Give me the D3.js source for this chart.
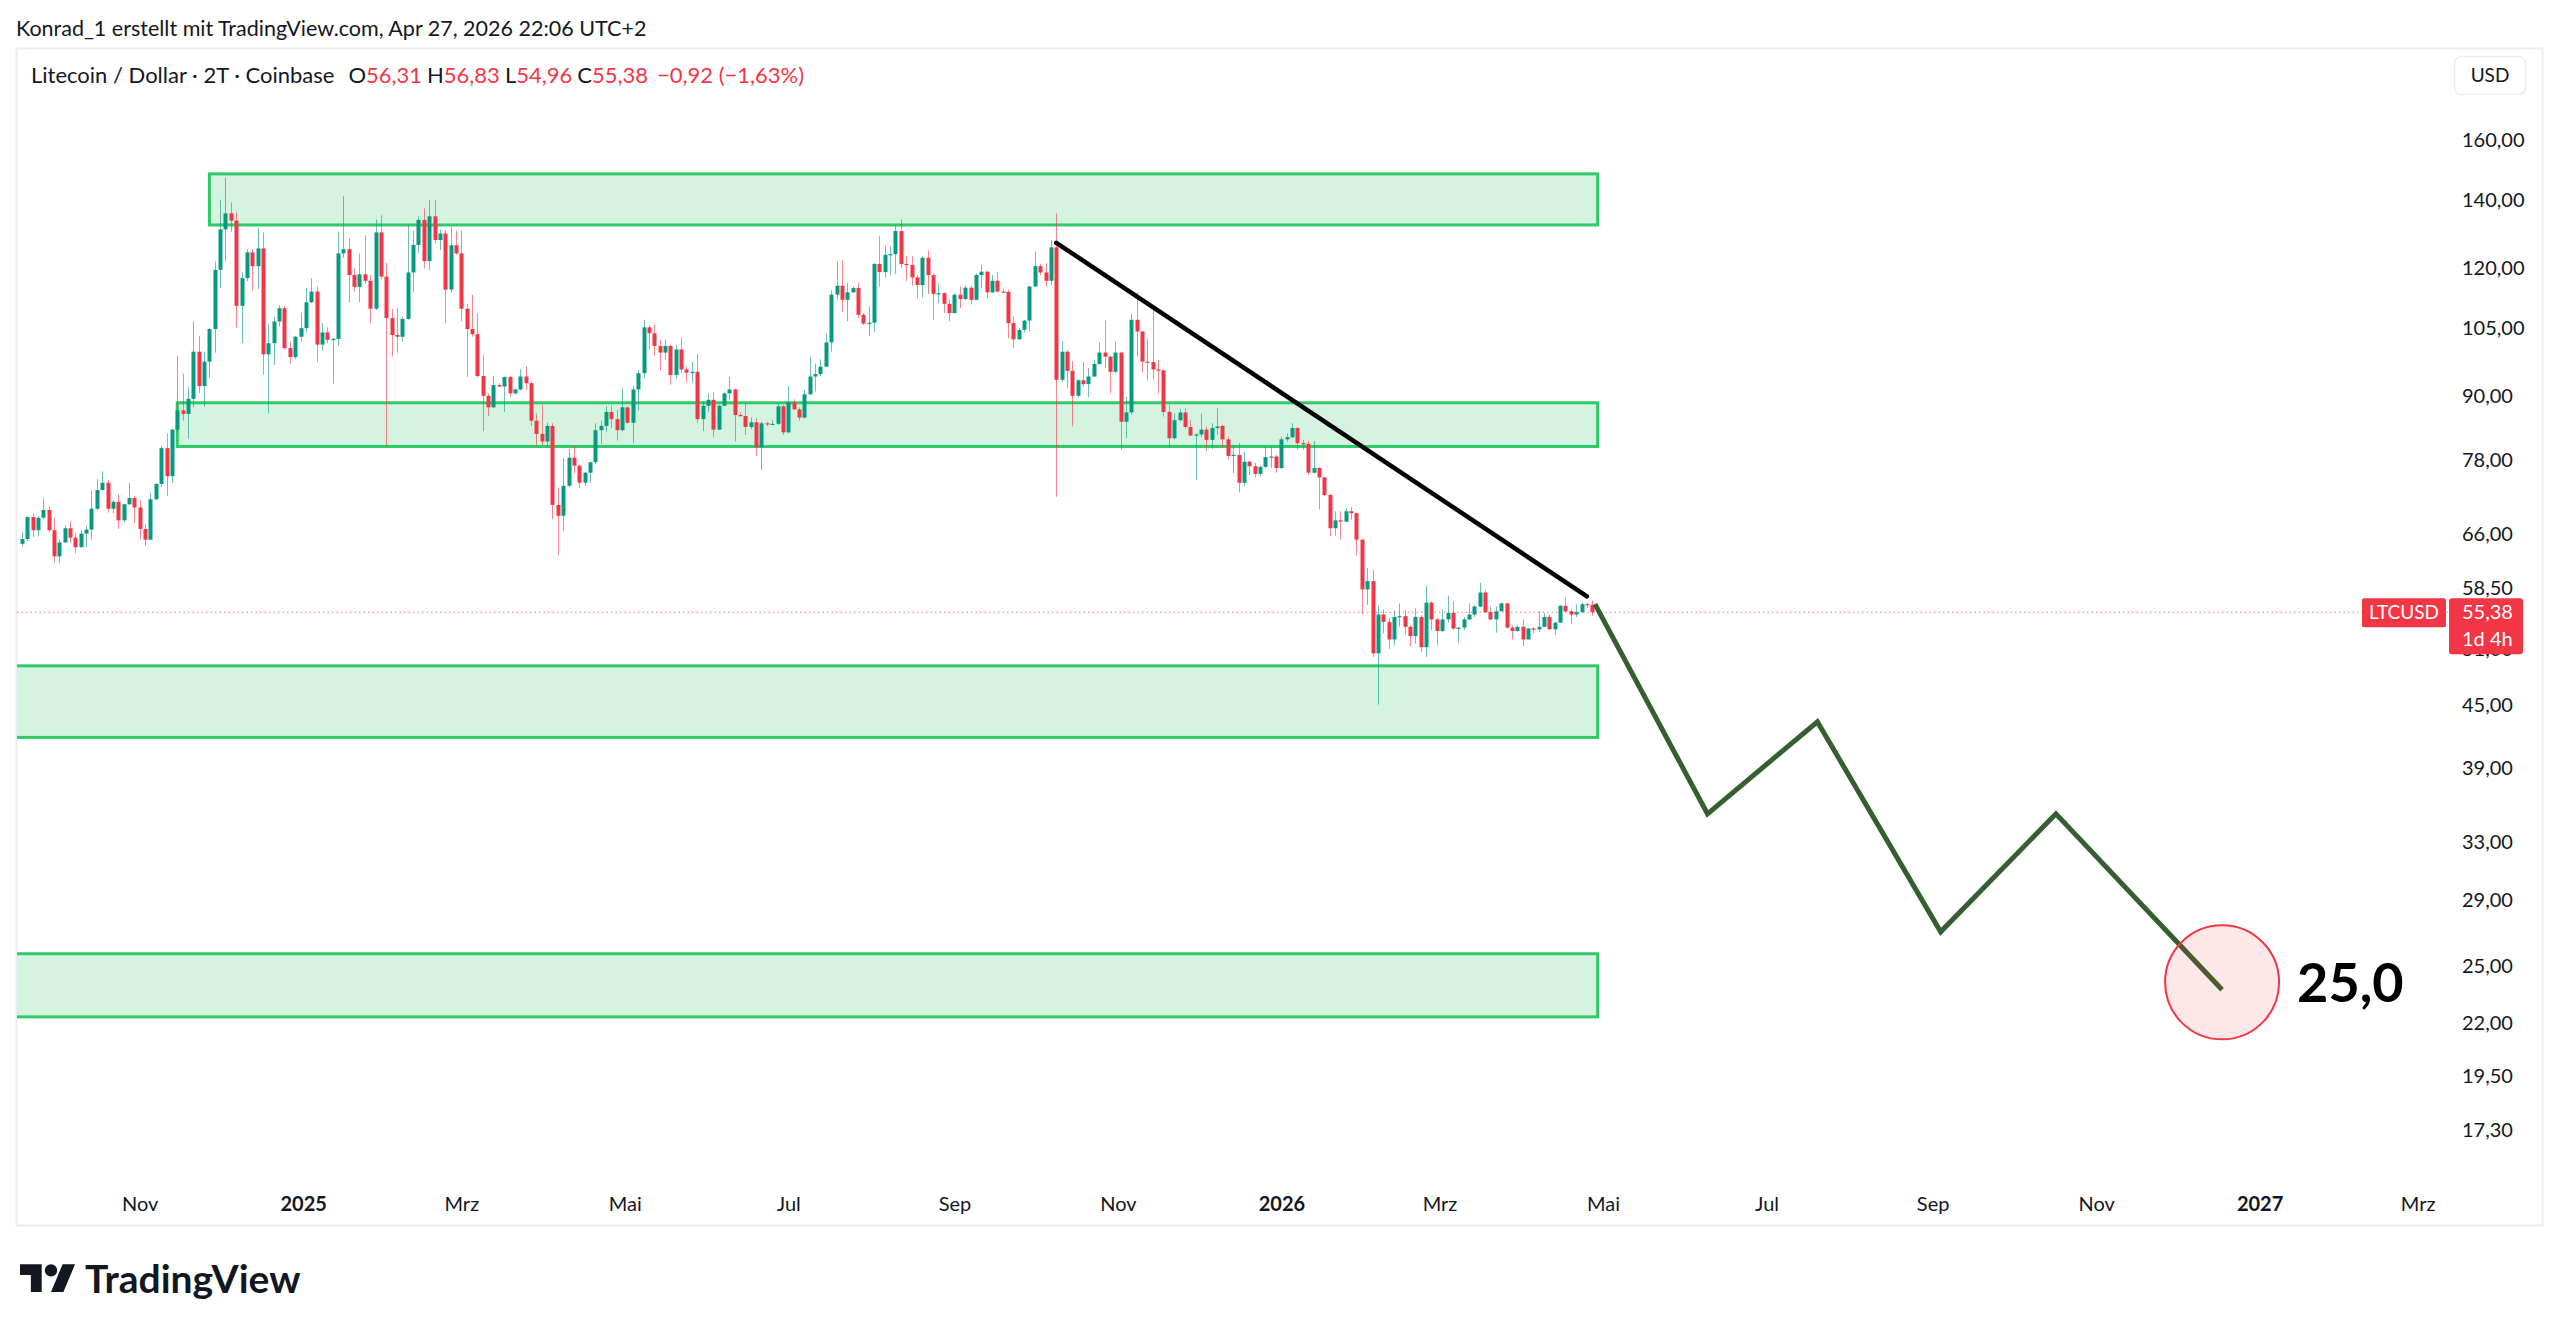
<!DOCTYPE html>
<html><head><meta charset="utf-8">
<script src="https://cdn.jsdelivr.net/npm/d3@7"></script>
<style>
html,body{margin:0;padding:0;background:#fff;}
svg{display:block;}
text{font-family:Lato,"Noto Sans",sans-serif;}
</style></head><body>
<svg id="chart" width="2560" height="1333"></svg>
<script>
// ---------------- DATA ----------------
const symbolTitle = "Litecoin / Dollar · 2T · Coinbase";
const headerText = "Konrad_1 erstellt mit TradingView.com, Apr 27, 2026 22:06 UTC+2";
const candleStart = "2024-09-18";   // first 2-day candle
const candleStepDays = 2;

const opens = [
64.6,65.3,68.6,66.6,68.5,69.7,66.6,62.8,64.8,66.9,
65.5,64.1,66.1,66.7,69.9,72.9,74.1,69.9,71.0,68.1,
70.6,71.6,70.1,66.8,65.2,71.4,73.9,80.1,75.2,83.5,
87.2,86.5,89.5,99.5,92.1,97.3,104.7,119.6,131.0,135.8,
133.6,110.3,117.4,124.4,120.6,125.5,98.9,101.4,106.5,109.7,
100.3,98.3,102.9,104.9,111.2,113.9,101.1,103.9,102.2,102.4,
124.1,125.3,118.2,115.1,118.4,116.7,109.6,130.1,117.8,107.3,
103.3,102.9,107.1,118.9,126.5,133.8,122.0,134.9,127.9,129.8,
114.4,126.4,124.1,109.6,104.7,103.5,94.2,90.1,87.8,92.3,
92.0,94.0,90.6,91.4,94.1,92.7,85.2,82.7,81.3,84.2,
70.5,68.8,73.6,78.4,77.0,74.1,75.8,77.6,83.4,84.2,
86.9,85.5,83.4,87.8,84.8,91.4,94.8,105.1,103.7,100.8,
99.3,100.8,94.4,100.0,95.6,94.9,95.1,85.5,88.1,89.3,
83.5,88.1,90.6,91.4,86.3,86.1,84.0,84.9,80.3,84.7,
84.5,84.6,88.0,83.0,88.8,87.4,85.8,90.4,94.1,94.6,
96.2,101.6,113.1,115.4,111.8,113.7,114.8,108.1,106.0,106.2,
121.2,119.0,123.7,123.9,130.5,121.2,120.9,117.6,115.6,122.9,
118.2,113.3,113.5,110.8,108.5,113.1,112.0,114.9,111.8,118.2,
119.1,113.7,116.7,113.9,113.8,106.1,102.3,104.5,106.7,115.2,
120.6,118.9,116.7,125.8,93.4,99.5,95.3,90.1,93.3,92.5,
94.1,96.8,99.3,98.4,95.1,99.3,85.0,86.8,106.9,104.1,
97.3,97.2,95.6,95.4,86.9,81.9,85.3,86.8,84.0,82.4,
82.6,83.5,81.6,83.8,84.2,81.7,78.7,78.9,74.1,77.7,
76.9,75.6,76.8,78.5,78.6,76.6,81.7,82.1,83.8,81.0,
80.9,75.8,76.6,75.0,72.1,66.9,68.1,67.9,69.5,69.2,
65.2,58.3,59.4,50.5,55.1,54.2,52.1,54.8,54.9,53.6,
52.5,54.8,51.2,56.6,54.5,53.1,54.5,55.3,53.4,53.5,
54.5,55.1,56.1,57.9,55.4,54.5,55.5,56.5,53.5,53.1,
53.6,52.1,53.4,53.3,53.6,54.8,53.3,54.1,56.2,55.5,
55.1,55.4,56.4,56.31];
const highs = [
66.3,68.7,69.2,68.7,71.5,70.2,68.5,65.2,67.4,67.9,
66.2,66.6,67.3,72.8,74.7,76.0,74.6,71.3,72.2,70.7,
74.1,71.9,71.3,67.5,72.4,74.1,80.5,82.8,83.7,98.6,
94.7,92.0,106.5,103.1,99.5,104.9,121.9,140.0,147.2,139.2,
136.2,118.9,125.3,125.3,131.5,130.1,105.9,107.6,110.5,110.3,
101.8,103.1,108.5,114.8,117.4,115.2,106.2,105.1,102.6,130.3,
141.1,128.4,120.1,124.1,129.3,118.2,134.0,135.2,121.5,109.5,
109.7,107.6,132.6,130.6,134.9,137.3,139.9,139.9,131.0,130.8,
131.8,130.6,130.6,110.8,113.1,108.5,98.8,90.6,94.2,92.8,
94.1,94.2,91.6,95.6,96.3,93.1,86.6,88.3,84.8,84.7,
73.3,78.3,79.9,80.5,77.2,75.9,77.7,84.7,85.2,88.0,
88.1,87.3,91.6,88.0,92.2,95.5,106.9,105.6,105.8,102.2,
102.3,101.0,101.0,102.7,96.2,97.2,99.0,88.9,90.6,90.8,
88.3,90.8,94.0,91.6,86.8,88.6,85.8,85.7,85.0,85.0,
85.3,88.6,88.3,92.1,89.4,87.8,91.3,98.3,96.9,97.8,
103.7,114.2,121.8,122.3,116.2,115.2,116.2,108.5,110.1,121.4,
129.0,126.2,126.2,132.0,134.0,123.3,123.3,118.2,123.3,124.9,
118.6,116.0,113.7,111.8,113.4,115.2,115.4,115.4,118.6,120.9,
119.3,118.2,119.1,114.6,114.4,107.7,104.9,106.9,115.4,124.6,
121.2,121.4,127.9,135.8,101.9,99.8,97.4,93.5,97.2,95.9,
97.7,101.6,106.7,98.6,101.8,99.5,89.9,108.3,113.7,104.3,
102.5,109.3,97.7,95.6,88.3,86.6,87.4,87.6,85.3,82.8,
86.6,84.1,84.7,87.6,84.4,82.2,80.7,81.0,79.5,77.9,
77.5,77.0,80.4,80.4,78.9,82.2,82.8,84.7,84.0,81.6,
81.4,81.4,76.8,75.1,72.3,69.5,69.5,70.0,70.2,69.3,
65.3,61.2,60.9,56.2,55.7,54.7,55.6,56.5,55.7,53.8,
55.9,55.0,58.8,56.8,54.7,55.7,57.5,56.8,53.6,54.8,
56.5,56.3,59.2,58.3,56.1,56.1,56.6,56.6,53.8,53.8,
54.5,53.5,53.6,55.5,55.3,55.1,54.2,56.3,57.3,55.8,
56.4,56.6,56.6,56.83];
const lows = [
64.2,65.0,65.6,65.7,68.3,66.3,61.9,61.8,64.7,64.7,
63.2,64.1,64.1,65.2,69.7,72.8,69.3,69.2,66.8,67.8,
70.5,67.7,65.2,64.3,65.2,71.3,73.4,71.9,74.1,82.8,
85.2,81.8,87.8,90.7,87.9,93.8,99.3,114.8,121.9,130.3,
105.1,101.4,116.6,114.1,114.6,94.5,86.6,96.6,105.3,100.0,
96.8,97.8,101.8,103.9,111.0,97.2,99.7,101.4,92.6,100.8,
122.9,111.2,113.9,111.2,116.0,106.1,109.3,117.1,80.5,98.4,
99.3,101.8,106.9,113.9,124.3,120.0,119.6,126.9,125.0,106.1,
113.7,123.7,106.5,94.0,102.9,93.9,83.2,86.1,87.6,91.9,
86.9,89.9,90.3,91.2,91.3,84.2,80.7,80.7,80.3,68.3,
63.0,66.4,73.4,75.7,73.2,73.6,74.1,77.3,80.9,83.0,
83.8,81.5,83.2,84.7,81.0,87.2,93.7,100.0,98.6,95.5,
97.7,92.4,93.6,94.8,92.8,92.8,84.8,83.2,86.9,82.1,
83.4,88.0,89.3,81.3,86.0,82.5,83.6,78.7,76.3,84.1,
84.4,84.4,82.5,82.8,87.3,85.2,85.6,90.3,91.0,94.2,
96.1,99.5,111.8,108.8,106.5,113.5,107.3,105.6,103.1,104.1,
115.2,117.6,118.2,118.5,120.0,116.6,115.4,112.2,112.4,113.3,
106.9,111.0,108.5,106.5,108.5,109.7,111.8,110.8,111.8,114.8,
112.2,113.5,113.7,113.7,102.5,100.3,102.2,103.9,104.1,115.1,
118.2,115.2,115.6,71.8,92.9,91.7,84.1,89.8,92.0,89.8,
94.0,96.6,95.9,90.6,94.8,79.8,81.9,86.3,98.4,94.9,
93.3,93.4,90.6,86.0,80.1,81.7,85.0,83.6,82.3,74.6,
82.1,79.6,79.9,82.5,80.1,78.0,75.7,72.5,73.5,75.4,
75.0,75.1,76.6,76.6,75.8,76.4,81.3,81.9,79.8,79.8,
75.4,75.7,69.8,71.9,65.7,65.8,65.2,67.8,68.2,62.9,
55.1,56.3,50.1,45.0,52.8,51.0,51.4,53.6,52.6,51.3,
51.6,50.6,50.1,53.2,51.4,53.0,54.1,53.2,51.7,53.2,
54.4,54.8,56.0,55.3,54.4,52.9,55.5,53.4,52.1,53.0,
51.3,52.1,52.8,53.0,53.6,53.3,52.6,54.1,55.4,54.0,
54.8,55.3,55.9,54.96];
const closes = [
65.3,68.6,66.6,68.5,69.7,66.6,62.8,64.8,66.9,65.5,
64.1,66.1,66.7,69.9,72.9,74.1,69.9,71.0,68.1,70.6,
71.6,70.1,66.8,65.2,71.4,73.9,80.1,75.2,83.5,87.2,
86.5,89.5,99.5,92.1,97.3,104.7,119.6,131.0,135.8,133.6,
110.3,117.4,124.4,120.6,125.5,98.9,101.4,106.5,109.7,100.3,
98.3,102.9,104.9,111.2,113.9,101.1,103.9,102.2,102.4,124.1,
125.3,118.2,115.1,118.4,116.7,109.6,130.1,117.8,107.3,103.3,
102.9,107.1,118.9,126.5,133.8,122.0,134.9,127.9,129.8,114.4,
126.4,124.1,109.6,104.7,103.5,94.2,90.1,87.8,92.3,92.0,
94.0,90.6,91.4,94.1,92.7,85.2,82.7,81.3,84.2,70.5,
68.8,73.6,78.4,77.0,74.1,75.8,77.6,83.4,84.2,86.9,
85.5,83.4,87.8,84.8,91.4,94.8,105.1,103.7,100.8,99.3,
100.8,94.4,100.0,95.6,94.9,95.1,85.5,88.1,89.3,83.5,
88.1,90.6,91.4,86.3,86.1,84.0,84.9,80.3,84.7,84.5,
84.6,88.0,83.0,88.8,87.4,85.8,90.4,94.1,94.6,96.2,
101.6,113.1,115.4,111.8,113.7,114.8,108.1,106.0,106.2,121.2,
119.0,123.7,123.9,130.5,121.2,120.9,117.6,115.6,122.9,118.2,
113.3,113.5,110.8,108.5,113.1,112.0,114.9,111.8,118.2,119.1,
113.7,116.7,113.9,113.8,106.1,102.3,104.5,106.7,115.2,120.6,
118.9,116.7,125.8,93.4,99.5,95.3,90.1,93.3,92.5,94.1,
96.8,99.3,98.4,95.1,99.3,85.0,86.8,106.9,104.1,97.3,
97.2,95.6,95.4,86.9,81.9,85.3,86.8,84.0,82.4,82.6,
83.5,81.6,83.8,84.1,81.7,78.7,78.9,74.1,77.7,76.9,
75.6,76.8,78.5,78.6,76.6,81.7,82.1,83.8,81.0,80.9,
75.8,76.6,75.0,72.1,66.9,68.1,67.9,69.5,69.2,65.2,
58.3,59.4,50.5,55.1,54.2,52.1,54.8,54.9,53.6,52.5,
54.8,51.2,56.6,54.5,53.1,54.5,55.3,53.4,53.5,54.5,
55.1,56.1,57.9,55.4,54.5,55.5,56.5,53.5,53.1,53.6,
52.1,53.4,53.3,53.6,54.8,53.3,54.1,56.2,55.5,55.1,
55.4,56.4,56.30,55.38];

const priceTicks = [160,140,120,105,90,78,66,58.5,51,45,39,33,29,25,22,19.5,17.3];
const timeTickDates = ["2024-11-01","2025-01-01","2025-03-01","2025-05-01","2025-07-01","2025-09-01","2025-11-01",
  "2026-01-01","2026-03-01","2026-05-01","2026-07-01","2026-09-01","2026-11-01","2027-01-01","2027-03-01"];
const timeTickLabels = ["Nov","2025","Mrz","Mai","Jul","Sep","Nov","2026","Mrz","Mai","Jul","Sep","Nov","2027","Mrz"];

// support / resistance zones
const zoneFrom = ["2024-11-27","2024-11-15","2024-06-01","2024-06-01"];
const zoneTo   = ["2026-04-29","2026-04-29","2026-04-29","2026-04-29"];
const zoneHigh = [148.4, 88.7, 49.1, 25.7];
const zoneLow  = [132.3, 80.4, 41.8, 22.3];

// descending trend line
const trendDates = ["2025-10-09","2026-04-25"];
const trendPrices = [127.1, 57.4];

// projected path
const projDates = ["2026-04-28","2026-06-09","2026-07-20","2026-09-04","2026-10-17","2026-12-18"];
const projPrices = [56.4, 35.2, 43.3, 27.0, 35.2, 23.7];

// target marker
const targetDate = "2026-12-18";
const targetPrice = 24.1;
const targetLabel = "25,0";

const lastPrice = 55.38;
const countdown = "1d 4h";

// ---------------- CHART ----------------
const ink = "#131722", up = "#089981", down = "#f23645";
const parse = s => new Date(s + "T00:00:00Z");
const de = d3.formatLocale({decimal:",", thousands:".", grouping:[3], currency:["","$"], minus:"\u2212"});
const f2 = de.format(".2f");

const plotL = 17, plotR = 2448, plotT = 49, plotB = 1168;
const x = d3.scaleTime().domain([parse("2026-01-01"), parse("2027-01-01")]).range([1281.4, 2259.6]);
const y = d3.scaleLog().domain([160, 17.3]).range([140.4, 1129.8]);

const svg = d3.select("#chart");
svg.append("rect").attr("width",2560).attr("height",1333).attr("fill","#fff");

// header
svg.append("text").attr("x",16).attr("y",28).attr("dy","0.35em")
  .attr("font-size",21.5).attr("fill",ink).text(headerText);

// panel border
svg.append("rect").attr("x",16.5).attr("y",48.5).attr("width",2526).attr("height",1177)
  .attr("fill","none").attr("stroke","#e9ecf2").attr("stroke-width",2);

svg.append("defs").append("clipPath").attr("id","plotclip")
  .append("rect").attr("x",plotL).attr("y",plotT).attr("width",plotR-plotL).attr("height",plotB-plotT);
const plotG = svg.append("g").attr("clip-path","url(#plotclip)");

// zones
const zones = zoneFrom.map((f,i)=>({f:parse(f), t:parse(zoneTo[i]), hi:zoneHigh[i], lo:zoneLow[i]}));
plotG.append("g").selectAll("rect").data(zones).join("rect")
  .attr("x",d=>x(d.f)).attr("width",d=>x(d.t)-x(d.f))
  .attr("y",d=>y(d.hi)).attr("height",d=>y(d.lo)-y(d.hi))
  .attr("fill","#d4f4e1").attr("stroke","#2fca67").attr("stroke-width",3);

// candles
const candles = closes.map((c,i)=>({date:d3.utcDay.offset(parse(candleStart), i*candleStepDays),
  o:opens[i], h:highs[i], l:lows[i], c:c}));
const cg = plotG.append("g");
const cx = d => Math.round(x(d.date)) + 0.5;
cg.selectAll("line").data(candles).join("line")
  .attr("x1",cx).attr("x2",cx)
  .attr("y1",d=>y(d.h)).attr("y2",d=>y(d.l))
  .attr("stroke",d=>d.c>=d.o?up:down).attr("stroke-opacity",0.6).attr("stroke-width",1);
cg.selectAll("rect").data(candles).join("rect")
  .attr("x",d=>cx(d)-2).attr("width",4)
  .attr("y",d=>y(Math.max(d.o,d.c)))
  .attr("height",d=>Math.max(1.2, y(Math.min(d.o,d.c))-y(Math.max(d.o,d.c))))
  .attr("fill",d=>d.c>=d.o?up:down);

// last price dotted line
plotG.append("line").attr("x1",plotL).attr("x2",plotR)
  .attr("y1",y(lastPrice)).attr("y2",y(lastPrice))
  .attr("stroke",down).attr("stroke-opacity",0.7).attr("stroke-width",1).attr("stroke-dasharray","1.5,3");

// trend line
const lineGen = d3.line().x(d=>x(d[0])).y(d=>y(d[1]));
plotG.append("path").datum(trendDates.map((d,i)=>[parse(d),trendPrices[i]]))
  .attr("d",lineGen).attr("fill","none").attr("stroke","#000").attr("stroke-width",4.5).attr("stroke-linecap","round");

// projection
plotG.append("path").datum(projDates.map((d,i)=>[parse(d),projPrices[i]]))
  .attr("d",lineGen).attr("fill","none").attr("stroke","#355f31").attr("stroke-width",5)
  .attr("stroke-linejoin","miter");

// target circle
const tx = x(parse(targetDate)), ty = y(targetPrice);
plotG.append("circle").attr("cx",tx).attr("cy",ty).attr("r",57)
  .attr("fill","rgba(242,54,69,0.12)").attr("stroke",down).attr("stroke-width",2);
plotG.append("text").attr("x",tx+75).attr("y",ty).attr("dy","0.36em")
  .attr("font-size",54).attr("font-weight",700).attr("fill","#000").text(targetLabel);

// y axis
const yAxis = d3.axisRight(y).tickValues(priceTicks).tickFormat(f2).tickSize(0).tickPadding(14);
const yg = svg.append("g").attr("transform",`translate(${plotR},0)`).call(yAxis);
yg.select(".domain").remove();
yg.selectAll("text").attr("font-size",20).attr("fill",ink).attr("font-family","Lato,'Noto Sans',sans-serif");

// x axis
const xAxis = d3.axisBottom(x).tickValues(timeTickDates.map(parse))
  .tickFormat((d,i)=>timeTickLabels[i]).tickSize(0).tickPadding(3);
const xg = svg.append("g").attr("transform","translate(0,1193.5)").call(xAxis);
xg.select(".domain").remove();
xg.selectAll("text").attr("font-size",20).attr("fill",ink).attr("font-family","Lato,'Noto Sans',sans-serif")
  .attr("font-weight",(d,i)=>/^\d{4}$/.test(timeTickLabels[i])?700:400);

// last price labels
const ly = y(lastPrice);
svg.append("rect").attr("x",2362).attr("y",ly-14).attr("width",84).attr("height",29).attr("fill",down).attr("rx",2);
svg.append("text").attr("x",2404).attr("y",ly).attr("dy","0.36em").attr("text-anchor","middle")
  .attr("font-size",19).attr("fill","#fff").text("LTCUSD");
svg.append("rect").attr("x",2449).attr("y",ly-14).attr("width",74).attr("height",56).attr("fill",down).attr("rx",3);
svg.append("text").attr("x",2462).attr("y",ly).attr("dy","0.36em")
  .attr("font-size",20).attr("fill","#fff").text(f2(lastPrice));
svg.append("text").attr("x",2462).attr("y",ly+27).attr("dy","0.36em")
  .attr("font-size",20).attr("fill","#fff").text(countdown);

// USD button
svg.append("rect").attr("x",2454.5).attr("y",56.5).attr("width",71).attr("height",38).attr("rx",7)
  .attr("fill","#fff").attr("stroke","#e9ecf2").attr("stroke-width",1.5);
svg.append("text").attr("x",2490).attr("y",75.5).attr("dy","0.36em").attr("text-anchor","middle")
  .attr("font-size",19).attr("fill",ink).text("USD");

// legend
const last = candles[candles.length-1], prev = candles[candles.length-2];
const chg = last.c - prev.c, pct = chg/prev.c*100;
const lg = svg.append("text").attr("x",31).attr("y",75).attr("dy","0.36em").attr("font-size",22).attr("fill",ink);
lg.append("tspan").text(symbolTitle);
[["O",last.o],["H",last.h],["L",last.l],["C",last.c]].forEach(([k,v],i)=>{
  lg.append("tspan").attr("dx",i===0?14:5).attr("fill",ink).text(k);
  lg.append("tspan").attr("fill",down).text(f2(v));
});
lg.append("tspan").attr("dx",9).attr("fill",down).text(`${f2(chg)} (${f2(pct)}%)`);

// TradingView logo
const logo = svg.append("g").attr("transform","translate(20,1258) scale(1.55)").attr("fill",ink);
logo.append("path").attr("d","M14 22H7V11H0V4h14v18zM28 22h-8l7.5-18h8L28 22z");
logo.append("circle").attr("cx",20).attr("cy",8).attr("r",4);
svg.append("text").attr("x",85).attr("y",1279).attr("dy","0.36em").attr("font-size",39)
  .attr("font-weight",700).attr("fill",ink).text("TradingView");
</script>
</body></html>
